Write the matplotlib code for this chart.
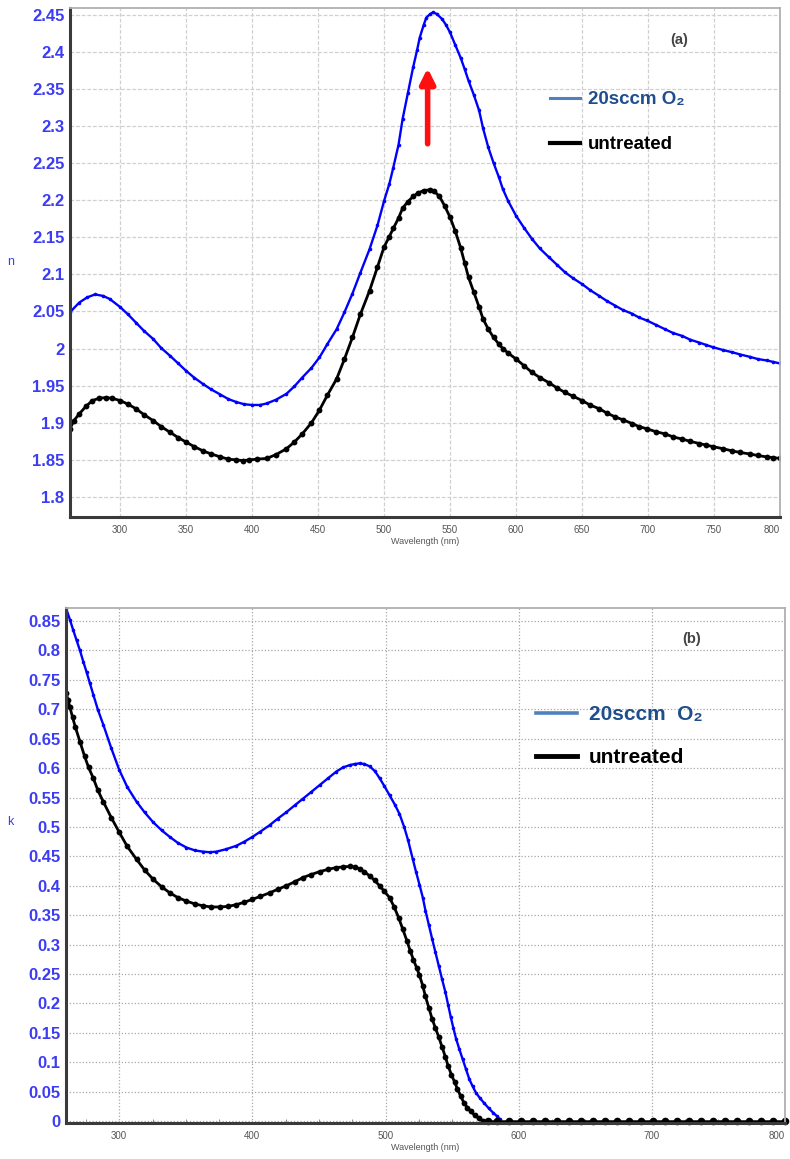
import numpy as np
import matplotlib
matplotlib.use("Agg")
import matplotlib.pyplot as plt
from matplotlib.lines import Line2D
from matplotlib.ticker import MultipleLocator, FormatStrFormatter

plt.rcParams['font.family'] = ['Liberation Sans', 'DejaVu Sans']

# ---------------------------------------------------------------
# (a) refractive index n
wl_n_o2 = [262, 269, 275, 281, 287, 292, 300, 306, 312, 318, 325, 331, 338, 344, 350,
           356, 363, 369, 376, 382, 388, 394, 400, 406, 411, 418, 426, 432, 438, 445,
           451, 457, 464, 470, 476, 482, 489, 495, 500, 504, 507, 511, 514, 518, 522,
           525, 527, 530, 532, 535, 537, 540, 544, 547, 550, 554, 558, 561, 564, 568,
           572, 575, 579, 583, 587, 590, 594, 600, 606, 612, 618, 625, 631, 637, 643,
           650, 656, 663, 669, 675, 681, 688, 693, 699, 706, 713, 719, 726, 732, 739,
           744, 749, 757, 764, 770, 777, 783, 790, 795, 800]
n_o2 = [2.049, 2.062, 2.069, 2.073, 2.071, 2.067, 2.056, 2.046, 2.035, 2.024, 2.013,
        2.001, 1.990, 1.980, 1.970, 1.961, 1.952, 1.945, 1.938, 1.932, 1.928, 1.925,
        1.924, 1.924, 1.926, 1.931, 1.939, 1.949, 1.961, 1.974, 1.988, 2.006, 2.026,
        2.049, 2.074, 2.102, 2.134, 2.166, 2.199, 2.222, 2.244, 2.275, 2.309, 2.344,
        2.379, 2.402, 2.419, 2.436, 2.446, 2.451, 2.453, 2.451, 2.444, 2.436, 2.426,
        2.409, 2.392, 2.377, 2.361, 2.342, 2.321, 2.297, 2.271, 2.250, 2.231, 2.215,
        2.199, 2.179, 2.163, 2.148, 2.135, 2.123, 2.113, 2.103, 2.095, 2.087, 2.079,
        2.071, 2.064, 2.058, 2.052, 2.047, 2.042, 2.038, 2.032, 2.026, 2.021, 2.017,
        2.012, 2.008, 2.005, 2.002, 1.998, 1.995, 1.992, 1.989, 1.986, 1.984, 1.982,
        1.980]

wl_n_un = [262, 265, 269, 274, 279, 284, 289, 294, 300, 306, 312, 318, 325, 331, 338,
           344, 350, 356, 363, 369, 376, 382, 388, 393, 398, 404, 411, 418, 426, 432,
           438, 445, 451, 457, 464, 470, 476, 482, 489, 495, 500, 504, 507, 511, 514,
           518, 522, 526, 530, 535, 538, 542, 546, 550, 554, 558, 561, 564, 568, 572,
           575, 579, 583, 587, 590, 594, 600, 606, 612, 618, 625, 631, 637, 643, 650,
           656, 663, 669, 675, 681, 688, 693, 699, 706, 713, 719, 726, 732, 739, 744,
           749, 757, 764, 770, 777, 783, 790, 795, 800]
n_un = [1.892, 1.903, 1.912, 1.922, 1.930, 1.933, 1.934, 1.933, 1.930, 1.925, 1.919,
        1.911, 1.903, 1.895, 1.887, 1.880, 1.874, 1.868, 1.862, 1.858, 1.854, 1.851,
        1.850, 1.849, 1.850, 1.851, 1.852, 1.857, 1.865, 1.874, 1.885, 1.900, 1.917,
        1.937, 1.959, 1.986, 2.015, 2.046, 2.078, 2.110, 2.137, 2.151, 2.162, 2.176,
        2.189, 2.198, 2.205, 2.210, 2.213, 2.214, 2.212, 2.205, 2.192, 2.177, 2.158,
        2.136, 2.116, 2.096, 2.076, 2.056, 2.040, 2.026, 2.015, 2.006, 2.000, 1.994,
        1.986, 1.977, 1.968, 1.961, 1.954, 1.947, 1.941, 1.936, 1.930, 1.924, 1.919,
        1.913, 1.908, 1.904, 1.899, 1.895, 1.892, 1.888, 1.885, 1.881, 1.878, 1.875,
        1.872, 1.870, 1.868, 1.865, 1.862, 1.860, 1.858, 1.856, 1.854, 1.853, 1.852]

# ---------------------------------------------------------------
# (b) extinction coefficient k
wl_k_o2 = [260, 263, 265.5, 268, 270.5, 273, 275.5, 278, 280.5, 284, 288, 294, 300, 306,
           313, 319, 325.5, 332, 338, 344, 350.5, 357, 363, 368, 373, 380, 388, 394,
           400, 406, 413, 419, 425.5, 432, 438, 444, 450.5, 457, 463, 468, 473, 477,
           480.5, 484, 488, 492, 495.5, 499, 503, 507, 510.5, 514, 517, 520.5, 523,
           525.5, 528, 530, 532.5, 535, 537.5, 540, 542.5, 545, 547, 549, 551, 553,
           555.5, 558, 560.5, 563, 565.5, 568, 571, 574, 577.5, 581, 584, 586]
k_o2 = [0.872, 0.852, 0.834, 0.817, 0.800, 0.781, 0.763, 0.744, 0.725, 0.699, 0.674,
        0.634, 0.597, 0.568, 0.543, 0.525, 0.508, 0.494, 0.483, 0.473, 0.465, 0.460,
        0.458, 0.457, 0.458, 0.462, 0.468, 0.475, 0.483, 0.492, 0.503, 0.514, 0.525,
        0.537, 0.548, 0.559, 0.571, 0.583, 0.594, 0.601, 0.605, 0.607, 0.608, 0.607,
        0.603, 0.595, 0.583, 0.570, 0.554, 0.538, 0.522, 0.500, 0.477, 0.445, 0.423,
        0.402, 0.380, 0.358, 0.334, 0.310, 0.287, 0.264, 0.241, 0.219, 0.198, 0.177,
        0.158, 0.140, 0.122, 0.105, 0.088, 0.071, 0.059, 0.048, 0.039, 0.031, 0.022,
        0.014, 0.008, 0.003]

wl_k_un = [260, 261.5, 263, 265, 267, 270.5, 274, 277, 280.5, 284, 288, 294, 300, 306,
           313, 319, 325.5, 332, 338, 344, 350.5, 357, 363, 369, 375.5, 382, 388, 394,
           400, 406, 413, 419, 425.5, 432, 438, 444, 450.5, 457, 463, 468, 473, 477,
           480.5, 484, 488, 492, 495.5, 499, 503, 506.5, 510, 513, 516, 518.5, 521,
           523.5, 525.5, 528, 530, 532.5, 535, 537.5, 540, 542.5, 545, 547, 549.5,
           552, 554, 556.5, 559, 561.5, 564, 567, 570, 573]
k_un = [0.728, 0.716, 0.703, 0.686, 0.670, 0.645, 0.620, 0.601, 0.583, 0.562, 0.543,
        0.516, 0.491, 0.467, 0.445, 0.427, 0.411, 0.398, 0.388, 0.380, 0.374, 0.369,
        0.366, 0.364, 0.364, 0.365, 0.368, 0.372, 0.377, 0.382, 0.388, 0.394, 0.400,
        0.407, 0.414, 0.419, 0.424, 0.428, 0.431, 0.432, 0.433, 0.432, 0.429, 0.424,
        0.417, 0.409, 0.400, 0.391, 0.380, 0.364, 0.345, 0.326, 0.307, 0.290, 0.274,
        0.260, 0.248, 0.230, 0.212, 0.193, 0.174, 0.158, 0.143, 0.126, 0.109, 0.094,
        0.079, 0.066, 0.055, 0.042, 0.031, 0.023, 0.017, 0.010, 0.005, 0.001]

# flat zero tail beyond the absorption edge (both samples)
wl_k_tail = [577, 584, 593, 602, 611, 620, 629, 638, 647, 656, 665, 674, 683, 692,
             701, 710, 719, 728, 737, 746, 755, 764, 773, 782, 791, 800]
k_tail = [0.0] * len(wl_k_tail)

labels_a = ['20sccm O\u2082', 'untreated']
labels_b = ['20sccm  O\u2082', 'untreated']
xticks_a = [300, 350, 400, 450, 500, 550, 600, 650, 700, 750, 800]
xticks_b = [300, 400, 500, 600, 700, 800]

# red arrow marking the rise of the n peak
arrow_wl = 533
arrow_from = 2.276
arrow_to = 2.378

# ---------------------------------------------------------------
tick_blue = '#3c3cf5'
legend_blue = '#1f4e8c'

fig = plt.figure(figsize=(7.9, 11.59), dpi=100)
ax1 = fig.add_axes([0.0886, 0.5539, 0.8987, 0.4392])
ax2 = fig.add_axes([0.0835, 0.0311, 0.9101, 0.4443])


def style_axes(ax, grid_ls, grid_col):
      for side in ['left', 'bottom']:
            ax.spines[side].set_color('#3a3a3a')
            ax.spines[side].set_linewidth(2.2)
      for side in ['top', 'right']:
            ax.spines[side].set_color('#b0b0b0')
            ax.spines[side].set_linewidth(1.3)
      ax.grid(True, color=grid_col, linestyle=grid_ls, linewidth=0.9)
      ax.set_axisbelow(True)
      ax.tick_params(axis='y', length=0, pad=4, labelsize=12, labelcolor=tick_blue)
      ax.tick_params(axis='x', length=0, pad=6, labelsize=7, labelcolor='#555555')
      ax.yaxis.set_major_formatter(FormatStrFormatter('%g'))
      ax.xaxis.set_major_formatter(FormatStrFormatter('%g'))
      ax.set_xlabel('Wavelength (nm)', fontsize=6.5, color='#555555', labelpad=1)


# ---- panel (a)
ax1.plot(wl_n_o2, n_o2, color='#0000ff', lw=1.7, marker='o', ms=2.6,
         markeredgewidth=0)
ax1.plot(wl_n_un, n_un, color='black', lw=2.0, marker='o', ms=4.2,
         markeredgewidth=0)
ax1.set_xlim(262, 800)
ax1.set_ylim(1.773, 2.459)
ax1.set_xticks(xticks_a)
ax1.yaxis.set_major_locator(MultipleLocator(0.05))
style_axes(ax1, (0, (3, 1.5)), '#d0d0d0')
ax1.set_ylabel('n', fontsize=9, color=tick_blue, rotation=0)
ax1.yaxis.set_label_coords(-0.084, 0.49)
ax1.annotate('', xy=(arrow_wl, arrow_to), xytext=(arrow_wl, arrow_from),
             arrowprops=dict(arrowstyle='-|>', color='#ff1010', lw=4,
                             mutation_scale=22, shrinkA=0, shrinkB=0))
ax1.text(0.858, 0.937, '(a)', transform=ax1.transAxes, fontsize=10.5,
         color='#444444', fontweight='bold', ha='center', va='center')
h1 = [Line2D([], [], color='#4f81bd', lw=2.2), Line2D([], [], color='black', lw=3)]
leg1 = ax1.legend(h1, labels_a, loc='upper left', bbox_to_anchor=(0.652, 0.87),
                  frameon=False, handlelength=1.6, handletextpad=0.45,
                  labelspacing=1.5, prop={'weight': 'bold', 'size': 13.5})
for t, c in zip(leg1.get_texts(), [legend_blue, 'black']):
      t.set_color(c)

# ---- panel (b)
ax2.plot(wl_k_o2, k_o2, color='#0000ff', lw=1.7, marker='o', ms=2.6,
         markeredgewidth=0)
ax2.plot(wl_k_un, k_un, color='black', lw=2.0, marker='o', ms=4.2,
         markeredgewidth=0)
ax2.plot(wl_k_tail, k_tail, color='black', lw=1.8, marker='o', ms=5.5,
         markeredgewidth=0, clip_on=False)
ax2.set_xlim(260, 800)
ax2.set_ylim(-0.003, 0.872)
ax2.set_xticks(xticks_b)
ax2.xaxis.set_minor_locator(MultipleLocator(25))
ax2.yaxis.set_major_locator(MultipleLocator(0.05))
style_axes(ax2, (0, (1, 1.6)), '#a8a8a8')
ax2.tick_params(axis='x', which='minor', direction='in', length=3, color='#777777')
ax2.set_ylabel('k', fontsize=9, color=tick_blue, rotation=0)
ax2.yaxis.set_label_coords(-0.078, 0.573)
ax2.text(0.87, 0.94, '(b)', transform=ax2.transAxes, fontsize=10.5,
         color='#444444', fontweight='bold', ha='center', va='center')
h2 = [Line2D([], [], color='#4f81bd', lw=2.6), Line2D([], [], color='black', lw=3.5)]
leg2 = ax2.legend(h2, labels_b, loc='upper left',
                  bbox_to_anchor=(0.627, 0.848), frameon=False, handlelength=2.0,
                  handletextpad=0.55, labelspacing=1.15,
                  prop={'weight': 'bold', 'size': 15})
for t, c in zip(leg2.get_texts(), [legend_blue, 'black']):
      t.set_color(c)

# bold y tick labels; keep the last wavelength label inside the figure
for ax in (ax1, ax2):
      for lab in ax.get_yticklabels():
            lab.set_fontweight('bold')
ax2.get_xticklabels()[-1].set_horizontalalignment('right')
ax1.get_xticklabels()[-1].set_horizontalalignment('right')

fig.savefig('out.png', dpi=100)
